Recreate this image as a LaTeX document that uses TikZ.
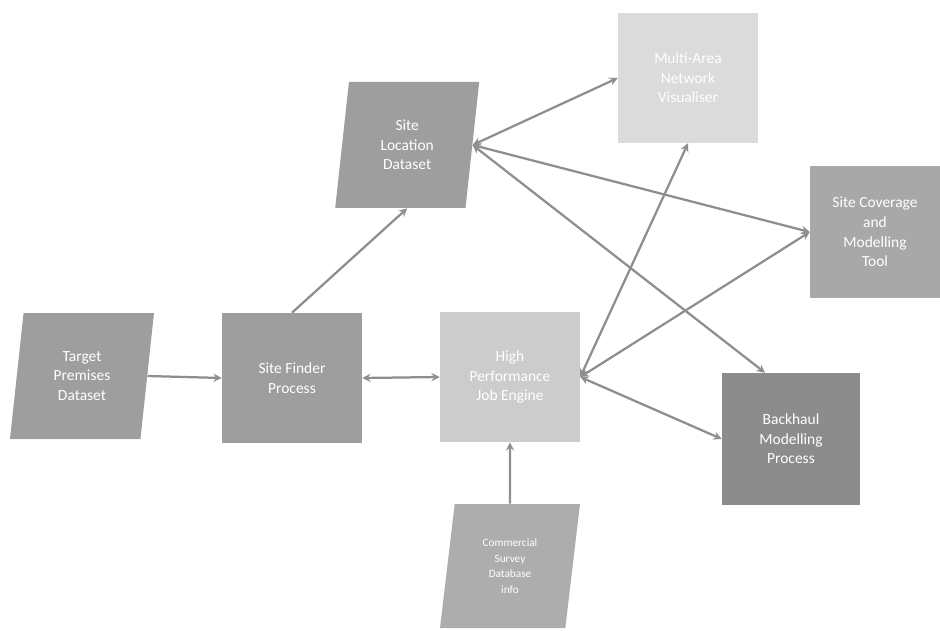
\documentclass[tikz,border=0pt]{standalone}
\usepackage{fontspec}
\setmainfont{Carlito}
\usetikzlibrary{shapes.geometric}

\tikzset{
  box/.style={draw=none,rectangle,minimum width=3.5cm,minimum height=3.25cm,text=white,align=center,font=\fontsize{11}{14}\selectfont},
  data/.style={box,shape=trapezium,trapezium left angle=77,trapezium right angle=103,minimum width=3.6cm,minimum height=3.15cm,trapezium stretches body},
  link/.style={draw=linkgray,line width=1.6pt,>=stealth}
}
\definecolor{linkgray}{HTML}{8E8E90}

\begin{document}
\begin{tikzpicture}
\useasboundingbox (0,0) rectangle (23.5,15.75);
\node[data,fill=black!38] (target) at (2.05,6.35) {Target\\Premises\\Dataset};
\node[box,fill=black!38] (finder) at (7.3,6.3) {Site Finder\\Process};
\node[box,fill=black!20] (engine) at (12.75,6.325) {High\\Performance\\Job Engine};
\node[data,fill=black!38] (location) at (10.18,12.125) {Site\\Location\\Dataset};
\node[box,fill=black!14] (visual) at (17.2,13.8) {Multi-Area\\Network\\Visualiser};
\node[box,fill=black!34,minimum width=3.25cm,minimum height=3.3cm] (coverage) at (21.875,9.95) {Site Coverage\\and\\Modelling\\Tool};
\node[box,fill=black!45,minimum width=3.45cm,minimum height=3.3cm] (backhaul) at (19.775,4.775) {Backhaul\\Modelling\\Process};
\node[data,fill=black!32,minimum width=3.5cm,minimum height=3.1cm,font=\fontsize{8}{11}\selectfont] (survey) at (12.75,1.6) {Commercial\\Survey\\Database\\info};
% connectors
\draw[link,->] (target.east) -- (finder.west);
\draw[link,<->] (finder.east) -- (engine.west);
\draw[link,->] (finder.north) -- (location.south);
\draw[link,->] (survey.north) -- (engine.south);
\draw[link,<->] (location.east) -- (visual.west);
\draw[link,<->] (location.east) -- (coverage.west);
\draw[link,<->] (location.east) -- ([xshift=-0.65cm]backhaul.north);
\draw[link,<->] (engine.east) -- (visual.south);
\draw[link,<->] (engine.east) -- (coverage.west);
\draw[link,<->] (engine.east) -- (backhaul.west);
\end{tikzpicture}
\end{document}
